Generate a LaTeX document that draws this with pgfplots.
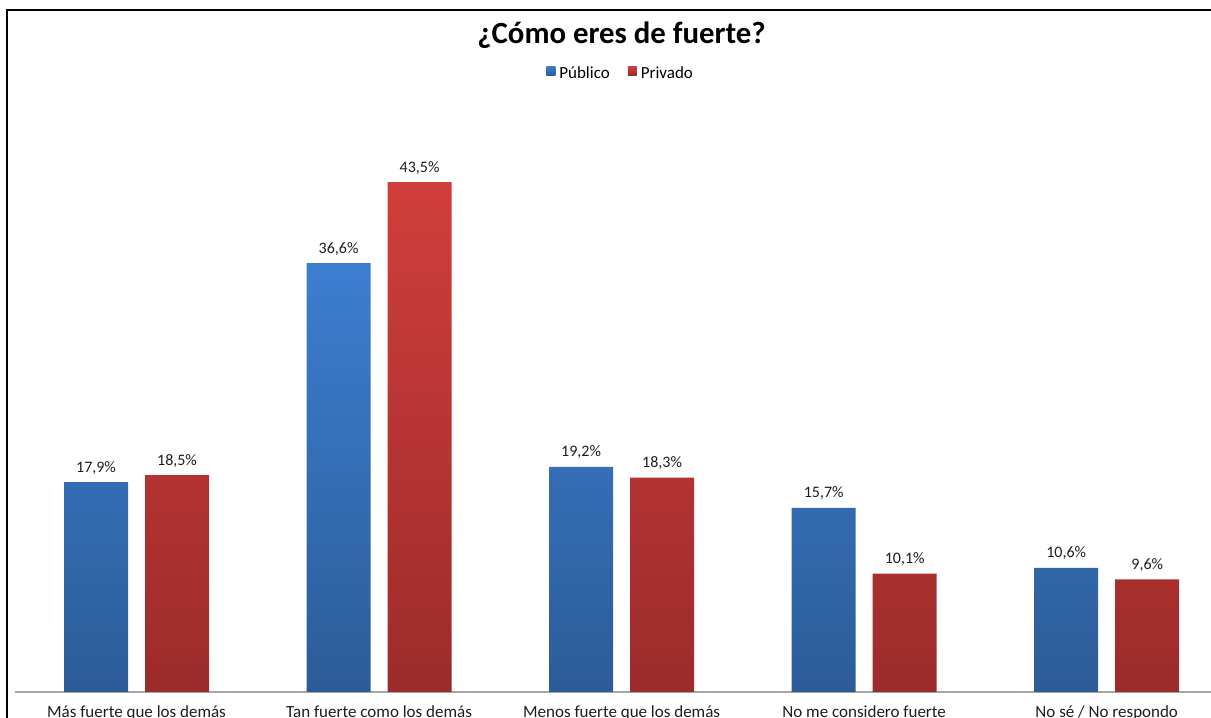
\documentclass[border=0pt]{standalone}
\usepackage{fontspec}
\setmainfont{Carlito}
\usepackage{pgfplots}
\pgfplotsset{compat=1.18}
\definecolor{bluetop}{RGB}{60,126,208}
\definecolor{bluebot}{RGB}{44,92,152}
\definecolor{redtop}{RGB}{208,62,59}
\definecolor{redbot}{RGB}{156,43,43}
\definecolor{axisgray}{RGB}{165,165,165}
\definecolor{labeltext}{RGB}{30,30,30}

\begin{document}
\begin{tikzpicture}[x=1pt,y=1pt]
\path[use as bounding box, clip] (0,0) rectangle (605.5,359);
\begin{axis}[
	at={(7.625pt,13pt)}, anchor=south west,
	scale only axis,
	width=606.375pt, height=293pt,
	xmin=-0.5, xmax=4.5, ymin=0, ymax=50,
	ybar=8.5pt, bar width=32pt,
	axis x line*=bottom, axis y line=none,
	x axis line style={draw=axisgray, line width=0.6pt, -},
	xtick={0,1,2,3,4}, ytick=\empty,
	major tick length=0pt,
	xticklabels={Más fuerte que los demás, Tan fuerte como los demás, Menos fuerte que los demás, No me considero fuerte, No sé / No respondo},
	xticklabel style={font=\fontsize{8.5}{10}\selectfont, anchor=base, yshift=-13pt, text=labeltext},
	nodes near coords={\pgfmathprintnumber[fixed, fixed zerofill, precision=1, use comma, assume math mode=true]{\pgfplotspointmeta}\%},
	every node near coord/.append style={font=\fontsize{8}{10}\selectfont, text=labeltext, anchor=base, yshift=5pt},
	title={¿Cómo eres de fuerte?},
	title style={at={(0.5,1.1075)}, anchor=base, yshift=-6pt, font=\bfseries\fontsize{15.4}{18}\selectfont},
	legend columns=2,
	legend style={at={(0.5,1.054)}, anchor=center, draw=none, fill=none,
		font=\fontsize{8.5}{10}\selectfont,
		/tikz/every even column/.append style={column sep=7pt}},
	legend image code/.code={\path[#1, draw=none] (0pt,-0.5pt) rectangle (4.5pt,4pt);},
]
\addplot[draw=none, top color=bluetop, bottom color=bluebot] coordinates {
	(0,17.9) (1,36.6) (2,19.2) (3,15.7) (4,10.6)
};
\addplot[draw=none, top color=redtop, bottom color=redbot] coordinates {
	(0,18.5) (1,43.5) (2,18.3) (3,10.1) (4,9.6)
};
\legend{Público, Privado}
\end{axis}
\draw[line width=1.25pt] (3.5,-5) -- (3.5,354) -- (610,354);
\end{tikzpicture}
\end{document}
